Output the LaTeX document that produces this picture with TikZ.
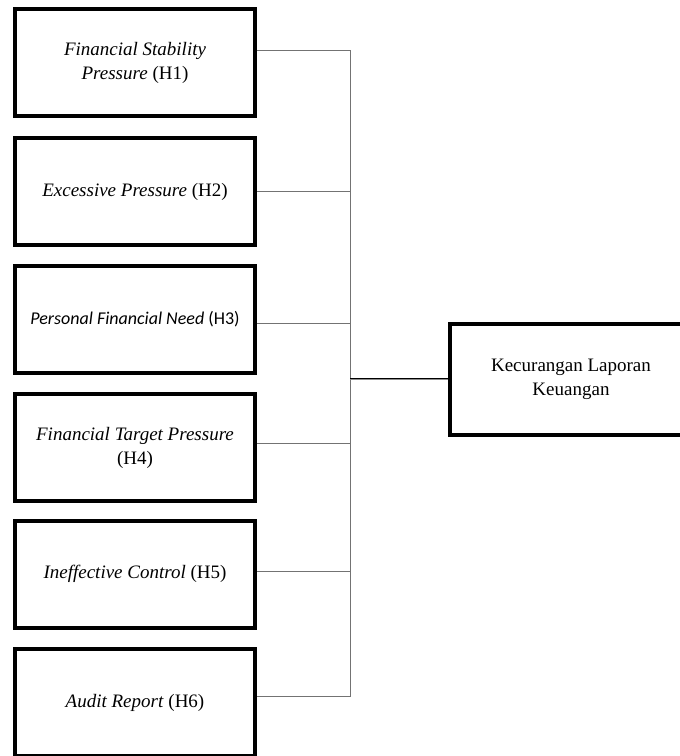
\documentclass[tikz,border=0pt]{standalone}
\usepackage{fontspec}
\setmainfont{Liberation Serif}[
  UprightFont={Liberation Serif},
  ItalicFont={Liberation Serif Italic},
  BoldFont={Liberation Serif Bold}]
\newfontfamily\carlitofont{Carlito}
\usetikzlibrary{calc}

\begin{document}
\begin{tikzpicture}[
  x=1pt, y=-1pt,
  varbox/.style={rectangle, draw, line width=4pt, minimum width=240pt,
    minimum height=107pt, align=center, inner sep=2pt,
    font=\fontsize{19}{24}\selectfont},
  link/.style={draw=black!55, line width=1pt},
  mainlink/.style={draw=black, double=black!45, double distance=0.9pt, line width=1pt}
  ]
  % page frame, cuts the last box and the target box like the original
  \clip (0,0) rectangle (680,756);

  %% independent variables
  \node[varbox] (b1) at (135, 62.5) {\textit{Financial Stability}\\\textit{Pressure} (H1)};
  \node[varbox] (b2) at (135, 191.5) {\textit{Excessive Pressure} (H2)};
  \node[varbox, font={\carlitofont\fontsize{18}{24}\selectfont}] (b3) at (135, 319.5)
    {\textit{Personal Financial Need} (H3)};
  \node[varbox] (b4) at (135, 447.5) {\textit{Financial Target Pressure}\\(H4)};
  \node[varbox] (b5) at (135, 574) {\textit{Ineffective Control} (H5)};
  \node[varbox] (b6) at (135, 702.5) {\textit{Audit Report} (H6)};

  %% dependent variable
  \node[varbox, minimum width=242pt, minimum height=111pt] (fraud) at (571, 379.5)
    {Kecurangan Laporan\\Keuangan};

  %% links to the trunk
  \coordinate (jn) at (350, 379);
  \draw[link] ([yshift=12pt]b1.east) -| (jn);
  \draw[link] (b2.east) -| (jn);
  \draw[link] ([yshift=-4pt]b3.east) -| (jn);
  \draw[link] ([yshift=4pt]b4.east) -| (jn);
  \draw[link] ([yshift=3pt]b5.east) -| (jn);
  \draw[link] ([yshift=6pt]b6.east) -| (jn);

  \draw[mainlink] (jn) -- (fraud.west |- jn);
\end{tikzpicture}
\end{document}
